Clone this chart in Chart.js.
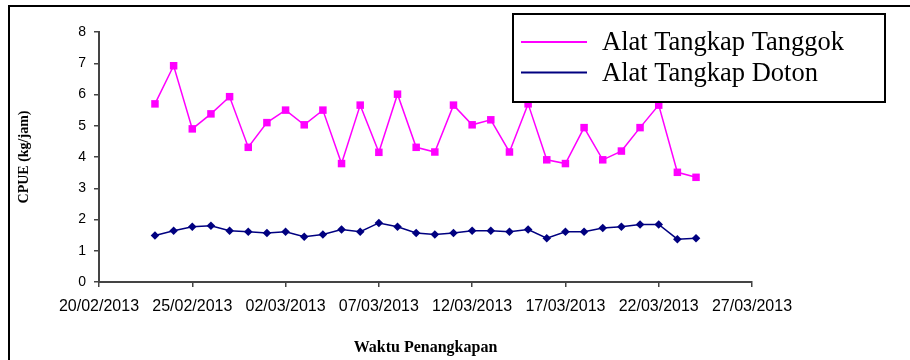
<!DOCTYPE html>
<html>
<head>
<meta charset="utf-8">
<script src="https://cdn.jsdelivr.net/npm/chart.js@4/dist/chart.umd.min.js"></script>
<style>
  html, body { margin: 0; padding: 0; background: #ffffff; }
  canvas { display: block; }
</style>
</head>
<body>
<canvas id="c" width="910" height="360"></canvas>
<script>
// ---- data ----
const startDate = '20/02/2013';
const tickLabels = ['20/02/2013', '25/02/2013', '02/03/2013', '07/03/2013', '12/03/2013', '17/03/2013', '22/03/2013', '27/03/2013'];
const dates = [
  '23/02/2013', '24/02/2013', '25/02/2013', '26/02/2013', '27/02/2013', '28/02/2013',
  '01/03/2013', '02/03/2013', '03/03/2013', '04/03/2013', '05/03/2013', '06/03/2013',
  '07/03/2013', '08/03/2013', '09/03/2013', '10/03/2013', '11/03/2013', '12/03/2013',
  '13/03/2013', '14/03/2013', '15/03/2013', '16/03/2013', '17/03/2013', '18/03/2013',
  '19/03/2013', '20/03/2013', '21/03/2013', '22/03/2013', '23/03/2013', '24/03/2013'
];
const tanggok = [5.70, 6.92, 4.90, 5.38, 5.93, 4.31, 5.10, 5.50, 5.03, 5.50, 3.79, 5.66, 4.15, 6.01, 4.31, 4.16, 5.66, 5.03, 5.19, 4.16, 5.70, 3.91, 3.79, 4.94, 3.91, 4.19, 4.94, 5.66, 3.51, 3.35];
const doton = [1.49, 1.64, 1.77, 1.80, 1.64, 1.61, 1.57, 1.61, 1.45, 1.52, 1.68, 1.61, 1.89, 1.77, 1.57, 1.52, 1.57, 1.64, 1.64, 1.61, 1.68, 1.40, 1.61, 1.61, 1.73, 1.77, 1.84, 1.84, 1.37, 1.40];
const seriesNames = ['Alat Tangkap Tanggok', 'Alat Tangkap Doton'];
const yTitle = 'CPUE (kg/jam)';
const xTitle = 'Waktu Penangkapan';

// ---- helpers ----
function dayIndex(s) {
  const p = s.split('/').map(Number);
  const q = startDate.split('/').map(Number);
  return Math.round((Date.UTC(p[2], p[1] - 1, p[0]) - Date.UTC(q[2], q[1] - 1, q[0])) / 86400000);
}
const toPoints = vals => dates.map((d, i) => ({ x: dayIndex(d), y: vals[i] }));

const frameAndLegend = {
  id: 'frameAndLegend',
  beforeDraw(chart) {
    const ctx = chart.ctx;
    ctx.save();
    ctx.fillStyle = '#ffffff';
    ctx.fillRect(0, 0, chart.width, chart.height);
    ctx.strokeStyle = '#000000';
    ctx.lineWidth = 2;
    ctx.strokeRect(9, 6, 1000, 400);
    ctx.restore();
  },
  afterDraw(chart) {
    const ctx = chart.ctx;
    ctx.save();
    ctx.fillStyle = '#ffffff';
    ctx.fillRect(513, 14, 372, 88);
    ctx.strokeStyle = '#000000';
    ctx.lineWidth = 2;
    ctx.strokeRect(513, 14, 372, 88);
    const rows = [{ y: 42, base: 50 }, { y: 72.5, base: 81 }];
    chart.data.datasets.forEach((ds, i) => {
      ctx.strokeStyle = ds.borderColor;
      ctx.lineWidth = 2;
      ctx.beginPath();
      ctx.moveTo(521, rows[i].y);
      ctx.lineTo(587, rows[i].y);
      ctx.stroke();
      ctx.fillStyle = '#000000';
      ctx.font = '26.5px "Liberation Serif", "Times New Roman", serif';
      ctx.textBaseline = 'alphabetic';
      ctx.textAlign = 'left';
      ctx.fillText(ds.label, 602, rows[i].base);
    });
    ctx.restore();
  }
};

new Chart(document.getElementById('c'), {
  type: 'line',
  data: {
    datasets: [
      {
        label: seriesNames[0],
        data: toPoints(tanggok),
        borderColor: '#ff00ff',
        backgroundColor: '#ff00ff',
        borderWidth: 1.5,
        pointStyle: 'rect',
        pointRadius: 5.3,
        pointBorderWidth: 0,
        tension: 0
      },
      {
        label: seriesNames[1],
        data: toPoints(doton),
        borderColor: '#000080',
        backgroundColor: '#000080',
        borderWidth: 1.5,
        pointStyle: 'rectRot',
        pointRadius: 4.3,
        pointBorderWidth: 0,
        tension: 0
      }
    ]
  },
  options: {
    responsive: false,
    animation: false,
    devicePixelRatio: 1,
    layout: { padding: { top: 32, left: 16, right: 158, bottom: 0 } },
    plugins: { legend: { display: false }, tooltip: { enabled: false } },
    scales: {
      x: {
        type: 'linear',
        min: 0,
        max: 35,
        ticks: {
          stepSize: 5,
          autoSkip: false,
          maxRotation: 0,
          padding: 10,
          color: '#000000',
          font: { family: '"Liberation Sans", Arial, sans-serif', size: 16 },
          callback: v => tickLabels[Math.round(v / 5)]
        },
        grid: { drawOnChartArea: false, drawTicks: true, tickLength: 5, color: '#444444', lineWidth: 1.5 },
        border: { display: true, color: '#444444', width: 2 },
        title: {
          display: true,
          text: xTitle,
          color: '#000000',
          padding: { top: 0, bottom: 3 },
          font: { family: '"Liberation Serif", "Times New Roman", serif', size: 16, weight: 'bold' }
        },
        afterFit(s) { s.height = 78; s.paddingLeft = 0; s.paddingRight = 0; }
      },
      y: {
        min: 0,
        max: 8,
        ticks: {
          stepSize: 1,
          padding: 8,
          color: '#000000',
          font: { family: '"Liberation Sans", Arial, sans-serif', size: 14 }
        },
        grid: { drawOnChartArea: false, drawTicks: true, tickLength: 5, color: '#444444', lineWidth: 1.5 },
        border: { display: true, color: '#444444', width: 2 },
        title: {
          display: true,
          text: yTitle,
          color: '#000000',
          padding: { top: 0, bottom: 0 },
          font: { family: '"Liberation Serif", "Times New Roman", serif', size: 14, weight: 'bold' }
        },
        afterFit(s) { s.width = 83; s.paddingTop = 0; s.paddingBottom = 0; }
      }
    }
  },
  plugins: [frameAndLegend]
});
</script>
</body>
</html>
